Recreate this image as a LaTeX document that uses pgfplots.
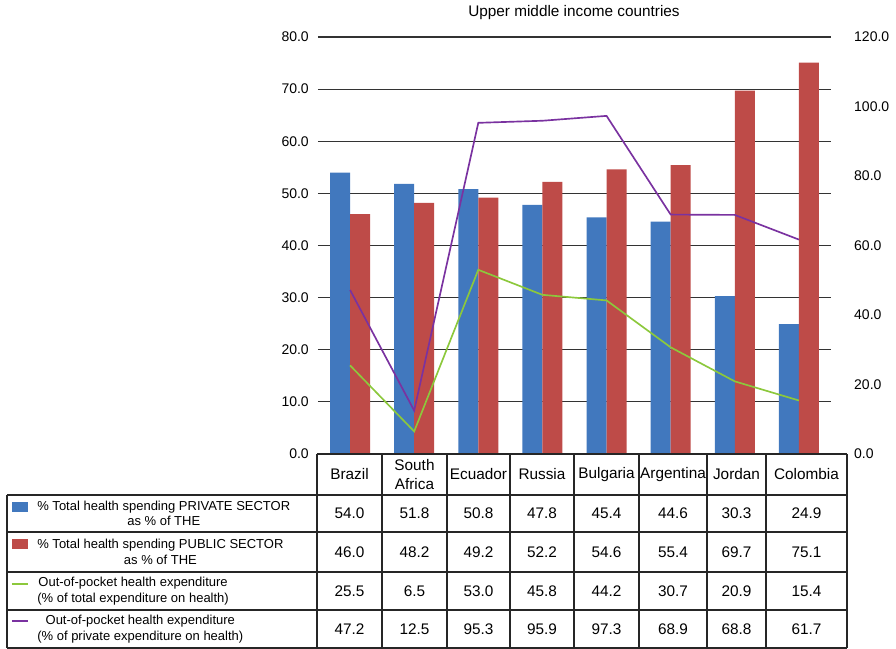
\documentclass[border=0pt]{standalone}
\usepackage{pgfplots}
\pgfplotsset{compat=1.18}
\usepackage{fontspec}
\setmainfont{Liberation Sans}
\definecolor{cblue}{RGB}{65,120,190}
\definecolor{cred}{RGB}{190,75,72}
\definecolor{cgreen}{RGB}{140,200,60}
\definecolor{cpurple}{RGB}{122,50,160}
\pgfplotsset{
  base/.style={
    scale only axis, width=307.8pt, height=250.2pt,
    at={(0,0)}, anchor=south west,
    xmin=-0.5, xmax=7.5, ymin=0,
    xtick=\empty,
    major tick length=0pt,
    tick label style={font=\fontsize{8.4}{10}\selectfont},
    yticklabel={\pgfmathprintnumber[fixed,fixed zerofill,precision=1,assume math mode=true]{\tick}},
  }
}
\begin{document}
\begin{tikzpicture}
\begin{axis}[base, ymax=80, ytick={0,10,...,80},
  ymajorgrids, grid style={black!80, line width=0.75pt},
  axis line style={draw=none},
  ybar, bar width=12pt,
  yticklabel style={xshift=-2pt}]
\addplot[fill=cblue, draw=none, bar shift=-6pt] coordinates {(0,54.0) (1,51.8) (2,50.8) (3,47.8) (4,45.4) (5,44.6) (6,30.3) (7,24.9)};
\addplot[fill=cred, draw=none, bar shift=6pt] coordinates {(0,46.0) (1,48.2) (2,49.2) (3,52.2) (4,54.6) (5,55.4) (6,69.7) (7,75.1)};
\end{axis}
\begin{axis}[base, ymax=120, ytick={0,20,...,120},
  axis y line*=right, axis x line=none,
  axis line style={draw=none},
  yticklabel style={xshift=10.4pt}]
\addplot[cpurple, line width=1pt, mark=none] coordinates {(0,47.2) (1,12.5) (2,95.3) (3,95.9) (4,97.3) (5,68.9) (6,68.8) (7,61.7)};
\addplot[cgreen, line width=1pt, mark=none] coordinates {(0,25.5) (1,6.5) (2,53.0) (3,45.8) (4,44.2) (5,30.7) (6,20.9) (7,15.4)};
\end{axis}
\begin{scope}[shift={(-190.8pt,272.4pt)}, x=0.6pt, y=-0.6pt]
\path (0,0) rectangle (896,649);
\node[font=\fontsize{9.2}{11}\selectfont] at (574,13) {Upper middle income countries};
% table lines
\begin{scope}[black!85, line width=0.7pt]
\draw (317,454) -- (847,454);
\draw (7,495) -- (847,495);
\draw (7,532) -- (847,532);
\draw (7,572) -- (847,572);
\draw (7,610) -- (847,610);
\draw (7,648) -- (847,648);
\draw (7,495) -- (7,648);
\foreach \xx in {317,382,447,510,574,639,707,766,847} {\draw (\xx,454) -- (\xx,648);}
\end{scope}
% header
\begin{scope}[font=\fontsize{9.2}{11}\selectfont]
\node at (349.5,474.5) {Brazil};
\node[align=center] at (414.5,474.5) {South\\Africa};
\node at (478.5,474.5) {Ecuador};
\node at (542,474.5) {Russia};
\node at (606.5,474.5) {Bulgaria};
\node at (673,474.5) {Argentina};
\node at (736.5,474.5) {Jordan};
\node at (806.5,474.5) {Colombia};
% values
\foreach \v [count=\i] in {54.0,51.8,50.8,47.8,45.4,44.6,30.3,24.9} {
  \pgfmathsetmacro{\cx}{{349.5,414.5,478.5,542,606.5,673,736.5,806.5}[\i-1]}
  \node at (\cx,513.5) {\v};}
\foreach \v [count=\i] in {46.0,48.2,49.2,52.2,54.6,55.4,69.7,75.1} {
  \pgfmathsetmacro{\cx}{{349.5,414.5,478.5,542,606.5,673,736.5,806.5}[\i-1]}
  \node at (\cx,552) {\v};}
\foreach \v [count=\i] in {25.5,6.5,53.0,45.8,44.2,30.7,20.9,15.4} {
  \pgfmathsetmacro{\cx}{{349.5,414.5,478.5,542,606.5,673,736.5,806.5}[\i-1]}
  \node at (\cx,591) {\v};}
\foreach \v [count=\i] in {47.2,12.5,95.3,95.9,97.3,68.9,68.8,61.7} {
  \pgfmathsetmacro{\cx}{{349.5,414.5,478.5,542,606.5,673,736.5,806.5}[\i-1]}
  \node at (\cx,629) {\v};}
\end{scope}
% legend
\fill[cblue] (12,502) rectangle (28,512);
\fill[cred] (12,539) rectangle (28,549);
\draw[cgreen, line width=1pt] (12,584) -- (28,584);
\draw[cpurple, line width=1pt] (12,621) -- (28,621);
\begin{scope}[font=\fontsize{7.8}{9.2}\selectfont]
\node[anchor=west, align=center, inner sep=0pt] at (37,513.5) {\% Total health spending PRIVATE SECTOR\\as \% of THE};
\node[anchor=west, align=center, inner sep=0pt] at (37,552) {\% Total health spending PUBLIC SECTOR\\as \% of THE};
\node[anchor=west, align=center, inner sep=0pt] at (37,591) {Out-of-pocket health expenditure\\(\% of total expenditure on health)};
\node[anchor=west, align=center, inner sep=0pt] at (37,629) {Out-of-pocket health expenditure\\(\% of private expenditure on health)};
\end{scope}
\end{scope}
\end{tikzpicture}
\end{document}
